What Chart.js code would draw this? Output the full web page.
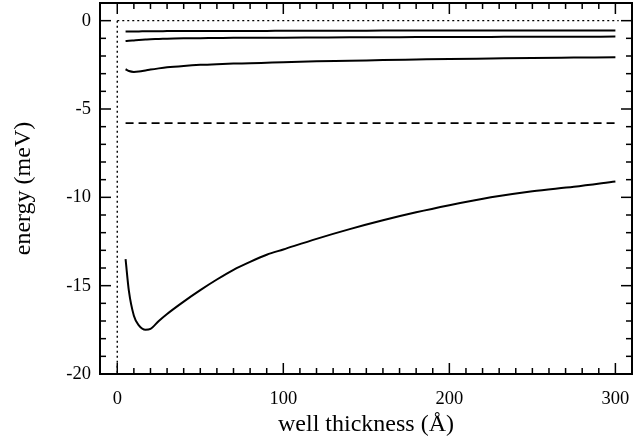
<!DOCTYPE html>
<html>
<head>
<meta charset="utf-8">
<script src="https://cdn.jsdelivr.net/npm/chart.js@4/dist/chart.umd.min.js"></script>
<style>
    html, body { margin: 0; padding: 0; background: #fff; }
</style>
</head>
<body>
<canvas id="myChart" width="642" height="442"></canvas>
<script>
// well thickness (A) sampled along the curves
let thickness = [5, 7, 10, 13, 17, 20, 25, 30, 40, 50, 60, 70, 80, 90, 100, 120, 140, 160, 180, 200, 225, 250, 275, 300];

// energy levels (meV)
let level_1 = [-13.5, -15.3, -16.7, -17.25, -17.5, -17.45, -17.0, -16.6, -15.9, -15.25, -14.65, -14.1, -13.65, -13.25, -12.95, -12.35, -11.8, -11.3, -10.85, -10.45, -10.0, -9.65, -9.4, -9.1];
let level_2 = [-2.75, -2.85, -2.9, -2.88, -2.82, -2.77, -2.7, -2.64, -2.56, -2.5, -2.46, -2.43, -2.41, -2.38, -2.35, -2.3, -2.27, -2.23, -2.2, -2.17, -2.14, -2.11, -2.09, -2.07];
let level_3 = [-1.15, -1.14, -1.12, -1.1, -1.07, -1.05, -1.04, -1.02, -1.0, -0.99, -0.98, -0.97, -0.97, -0.96, -0.96, -0.95, -0.94, -0.94, -0.93, -0.93, -0.92, -0.91, -0.91, -0.9];
let level_4 = [-0.62, -0.62, -0.61, -0.61, -0.6, -0.6, -0.6, -0.59, -0.59, -0.59, -0.58, -0.58, -0.58, -0.58, -0.57, -0.57, -0.57, -0.56, -0.56, -0.56, -0.56, -0.55, -0.55, -0.55];

// dashed reference level and dotted barrier edges
let dashed_x = [5, 300];
let dashed_y = [-5.8, -5.8];
let dotted_h_x = [0, 302];
let dotted_h_y = [0, 0];
let dotted_v_x = [0, 0];
let dotted_v_y = [0, -20];

let x_ticks = [0, 100, 200, 300];
let y_ticks = [0, -5, -10, -15, -20];

function pts(xs, ys) {
    return xs.map(function (x, i) { return { x: x, y: ys[i] } });
}

const serif = 'Liberation Serif, Times New Roman, serif';

// inward tick marks on all four sides plus the frame
const frameTicks = {
    id: 'frameTicks',
    afterDraw(chart) {
        let c = chart.ctx, a = chart.chartArea;
        let xs = chart.scales.x, ys = chart.scales.y;
        c.save();
        c.strokeStyle = '#000';
        c.lineWidth = 1.5;
        function seg(x1, y1, x2, y2) {
            c.beginPath(); c.moveTo(x1, y1); c.lineTo(x2, y2); c.stroke();
        }
        for (let v = 0; v <= 300; v += 10) {
            let px = xs.getPixelForValue(v);
            let len = v % 100 === 0 ? 11 : 6;
            seg(px, a.bottom, px, a.bottom - len);
            seg(px, a.top, px, a.top + len);
        }
        for (let v = -20; v <= 0; v += 1) {
            let py = ys.getPixelForValue(v);
            let len = v % 5 === 0 ? 11 : 6;
            seg(a.left, py, a.left + len, py);
            seg(a.right, py, a.right - len, py);
        }
        c.lineWidth = 2;
        c.strokeRect(a.left, a.top, a.right - a.left, a.bottom - a.top);
        c.restore();
    }
};

function solid(data) {
    return {
        data: data,
        borderColor: '#000',
        borderWidth: 2,
        pointRadius: 0,
        showLine: true,
        cubicInterpolationMode: 'monotone'
    };
}

let myChart = new Chart('myChart', {
    type: 'scatter',
    plugins: [frameTicks],
    data: {
        datasets: [
            solid(pts(thickness, level_1)),
            solid(pts(thickness, level_2)),
            solid(pts(thickness, level_3)),
            solid(pts(thickness, level_4)),
            {
                data: pts(dashed_x, dashed_y),
                borderColor: '#000',
                borderWidth: 1.6,
                borderDash: [8, 5],
                pointRadius: 0,
                showLine: true
            },
            {
                data: pts(dotted_h_x, dotted_h_y),
                borderColor: '#000',
                borderWidth: 1.4,
                borderDash: [2, 3],
                pointRadius: 0,
                showLine: true
            },
            {
                data: pts(dotted_v_x, dotted_v_y),
                borderColor: '#000',
                borderWidth: 1.4,
                borderDash: [2, 3],
                pointRadius: 0,
                showLine: true
            }
        ]
    },
    options: {
        responsive: false,
        animation: false,
        layout: { padding: { top: 3, right: 10, left: 0, bottom: 0 } },
        plugins: {
            legend: { display: false },
            tooltip: { enabled: false }
        },
        scales: {
            x: {
                type: 'linear',
                min: -10.4,
                max: 310,
                grid: { display: false, drawTicks: false },
                border: { display: false },
                afterBuildTicks: function (scale) {
                    scale.ticks = x_ticks.map(function (v) { return { value: v } });
                },
                afterFit: function (scale) {
                    scale.height = 68;
                    scale.paddingLeft = 0;
                    scale.paddingRight = 0;
                },
                ticks: {
                    padding: 14,
                    color: '#000',
                    font: { family: serif, size: 18.5 }
                },
                title: {
                    display: true,
                    text: 'well thickness (Å)',
                    color: '#000',
                    padding: { top: 0, bottom: 3 },
                    font: { family: serif, size: 24 }
                }
            },
            y: {
                min: -20,
                max: 1,
                grid: { display: false, drawTicks: false },
                border: { display: false },
                afterBuildTicks: function (scale) {
                    scale.ticks = y_ticks.map(function (v) { return { value: v } });
                },
                afterFit: function (scale) {
                    scale.width = 100;
                    scale.paddingTop = 0;
                    scale.paddingBottom = 0;
                },
                ticks: {
                    padding: 9,
                    color: '#000',
                    font: { family: serif, size: 18.5 }
                },
                title: {
                    display: true,
                    text: 'energy (meV)',
                    color: '#000',
                    padding: { top: 9, bottom: 0 },
                    font: { family: serif, size: 24 }
                }
            }
        }
    }
});
</script>
</body>
</html>
